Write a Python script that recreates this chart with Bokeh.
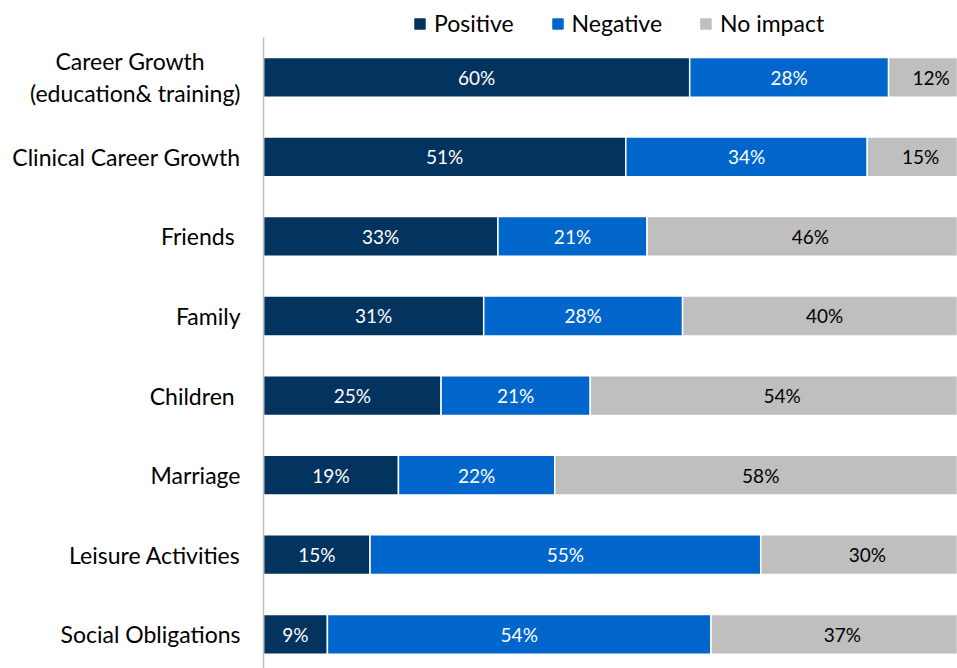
from bokeh.plotting import figure
from bokeh.layouts import column
from bokeh.models import ColumnDataSource, Range1d, FixedTicker, Legend, LegendItem
from bokeh.embed import file_html
from bokeh.resources import INLINE
from bokeh.core.properties import value

categories = ["Career Growth      \n(education& training)", "Clinical Career Growth", "Friends ",
              "Family", "Children ", "Marriage", "Leisure Activities", "Social Obligations"]
positive = [60, 51, 33, 31, 25, 19, 15, 9]
negative = [28, 34, 21, 28, 21, 22, 55, 54]
no_impact = [12, 15, 46, 40, 54, 58, 30, 37]
series_names = ["Positive", "Negative", "No impact"]
colors = ["#03335F", "#0066CC", "#BFBFBF"]
label_colors = ["white", "white", "black"]

FONT = "Lato"
NAN = float("nan")

ypos = list(range(len(categories)))

p = figure(width=957, height=631, output_backend="svg", toolbar_location=None,
           x_range=Range1d(0, 97.7), y_range=Range1d(7.43, -0.5),
           min_border_left=263, min_border_right=0, min_border_bottom=0, min_border_top=0)
p.outline_line_color = None
p.xgrid.visible = False
p.ygrid.visible = False
p.xaxis.visible = False

# legend strip above the chart
lg = figure(width=957, height=37, output_backend="svg", toolbar_location=None,
            x_range=Range1d(0, 1), y_range=Range1d(0, 1),
            min_border_left=0, min_border_right=0, min_border_bottom=0, min_border_top=0)
lg.outline_line_color = None
lg.axis.visible = False
lg.grid.visible = False

series = [positive, negative, no_impact]
lefts = [0] * len(categories)
legend_items = []
for name, vals, col, tcol in zip(series_names, series, colors, label_colors):
    rights = [l + v for l, v in zip(lefts, vals)]
    src = ColumnDataSource(dict(
        y=ypos, left=lefts, right=rights,
        mid=[(l + r) / 2 for l, r in zip(lefts, rights)],
        lab=[f"{v}%" for v in vals],
    ))
    p.hbar(y="y", left="left", right="right", height=0.5, source=src,
           fill_color=col, line_color="white", line_width=1.5)
    p.text(x="mid", y="y", text="lab", source=src, text_align="center",
           text_baseline="middle", text_color=tcol, text_font=value(FONT),
           text_font_size="19px")
    # legend proxy (NaN geometry, never drawn in the strip itself)
    dummy = lg.quad(left=[NAN], right=[NAN], top=[NAN], bottom=[NAN],
                    fill_color=col, line_color=col)
    legend_items.append(LegendItem(label=name, renderers=[dummy]))
    lefts = rights

yax = p.yaxis[0]
yax.ticker = FixedTicker(ticks=ypos)
yax.major_label_overrides = {i: c for i, c in zip(ypos, categories)}
yax.major_label_text_font = FONT
yax.major_label_text_font_size = "23px"
yax.major_label_text_color = "#000000"
yax.major_label_text_line_height = 1.15
yax.major_label_standoff = 17
yax.major_tick_line_color = None
yax.minor_tick_line_color = None
yax.axis_line_color = "#BFBFBF"
yax.axis_line_width = 1.5

legend = Legend(items=legend_items, orientation="horizontal", location=(150, 0))
legend.label_text_font = FONT
legend.label_text_font_size = "23px"
legend.label_text_color = "#000000"
legend.glyph_width = 13
legend.glyph_height = 13
legend.label_standoff = 8
legend.spacing = 37
legend.padding = 0
legend.margin = 0
legend.border_line_color = None
legend.background_fill_alpha = 0
lg.add_layout(legend, "center")

layout = column(lg, p, spacing=0)
open("out.html", "w").write(file_html(layout, INLINE))
